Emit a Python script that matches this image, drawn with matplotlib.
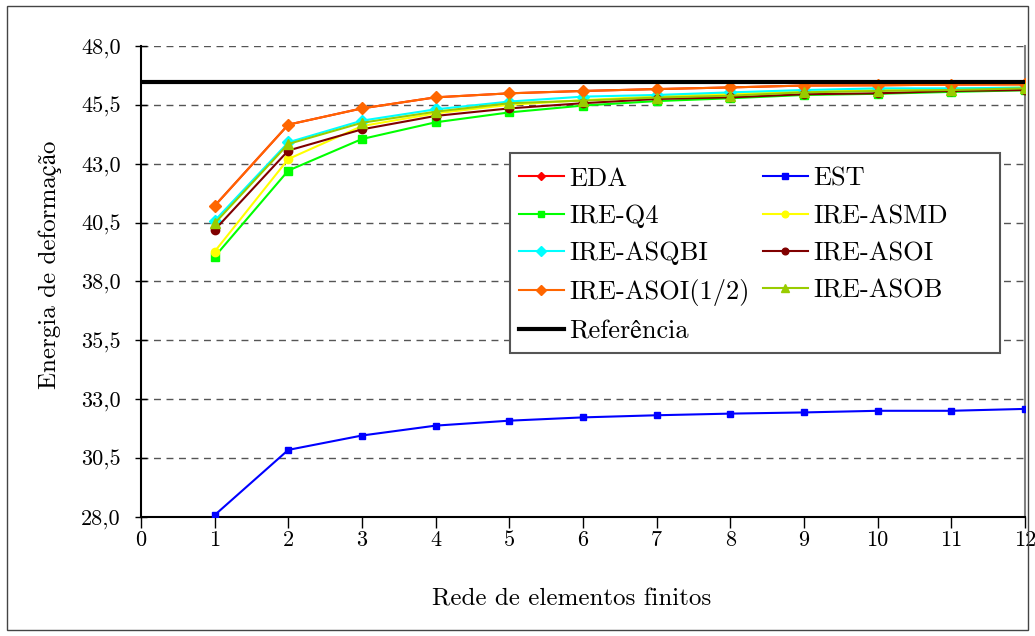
import matplotlib
matplotlib.use("Agg")
import matplotlib.pyplot as plt
from matplotlib.patches import Rectangle
from matplotlib.ticker import FixedLocator, FixedFormatter

plt.rcParams['font.family'] = ['cmr10', 'STIXGeneral']
plt.rcParams['axes.unicode_minus'] = False

# Mesh refinement levels
meshes = [1, 2, 3, 4, 5, 6, 7, 8, 9, 10, 11, 12]

eda = [41.21, 44.66, 45.35, 45.82, 45.99, 46.09, 46.17, 46.24, 46.32, 46.33, 46.36, 46.37]
est = [28.08, 30.85, 31.46, 31.88, 32.09, 32.23, 32.32, 32.39, 32.44, 32.51, 32.51, 32.59]
ire_q4 = [39.05, 42.71, 44.05, 44.76, 45.18, 45.47, 45.66, 45.78, 45.92, 45.97, 46.05, 46.12]
ire_asmd = [39.27, 43.20, 44.60, 45.14, 45.50, 45.70, 45.86, 45.97, 46.06, 46.13, 46.19, 46.24]
ire_asqbi = [40.58, 43.91, 44.83, 45.31, 45.64, 45.85, 45.92, 46.03, 46.13, 46.20, 46.20, 46.23]
ire_asoi = [40.19, 43.56, 44.46, 45.03, 45.35, 45.57, 45.75, 45.82, 45.95, 45.99, 46.09, 46.13]
ire_asoi_half = [41.21, 44.66, 45.35, 45.82, 45.99, 46.09, 46.17, 46.24, 46.32, 46.33, 46.36, 46.37]
ire_asob = [40.47, 43.84, 44.74, 45.21, 45.57, 45.68, 45.81, 45.89, 46.03, 46.09, 46.13, 46.20]
reference_value = 46.46

x_ticks = [0, 1, 2, 3, 4, 5, 6, 7, 8, 9, 10, 11, 12]
y_ticks = [28.0, 30.5, 33.0, 35.5, 38.0, 40.5, 43.0, 45.5, 48.0]
y_tick_labels = ["28,0", "30,5", "33,0", "35,5", "38,0", "40,5", "43,0", "45,5", "48,0"]

series = [
    ("EDA", eda, "#FF0000", "D", 5),
    ("EST", est, "#0000FF", "s", 5),
    ("IRE-Q4", ire_q4, "#00FF00", "s", 6),
    ("IRE-ASMD", ire_asmd, "#FFFF00", "o", 6),
    ("IRE-ASQBI", ire_asqbi, "#00FFFF", "D", 6),
    ("IRE-ASOI", ire_asoi, "#800000", "o", 6),
    ("IRE-ASOI(1/2)", ire_asoi_half, "#FF6600", "D", 6),
    ("IRE-ASOB", ire_asob, "#99CC00", "^", 7),
]

fig = plt.figure(figsize=(10.35, 6.36), dpi=100)
ax = fig.add_axes([0.1362, 0.1871, 0.8541, 0.7406])

# Outer frame around the whole figure
fig.patches.append(Rectangle((0.007, 0.009), 0.986, 0.982, transform=fig.transFigure,
                             fill=False, edgecolor="#444444", linewidth=1.0))

handles = {}
for label, values, color, marker, ms in series:
    line, = ax.plot(meshes, values, color=color, marker=marker, markersize=ms,
                    linewidth=1.5, label=label, zorder=3)
    handles[label] = line

ref_line = ax.axhline(reference_value, color="black", linewidth=3,
                      label="Referência", zorder=4)
handles["Referência"] = ref_line

ax.set_xlim(0, 12)
ax.set_ylim(28, 48)
ax.xaxis.set_major_locator(FixedLocator(x_ticks))
ax.yaxis.set_major_locator(FixedLocator(y_ticks))
ax.yaxis.set_major_formatter(FixedFormatter(y_tick_labels))

ax.grid(axis="y", color="#555555", linestyle=(0, (5, 4)), linewidth=1.0, zorder=1)
ax.set_axisbelow(True)

ax.tick_params(axis="y", direction="inout", length=9, width=1, labelsize=16, pad=10)
ax.tick_params(axis="x", direction="out", length=8, width=1, labelsize=16, pad=2)

ax.spines["left"].set_color("black")
ax.spines["left"].set_linewidth(1.5)
ax.spines["bottom"].set_color("black")
ax.spines["bottom"].set_linewidth(1.5)
ax.spines["right"].set_color("#808080")
ax.spines["right"].set_linewidth(1.5)
ax.spines["top"].set_visible(False)

ax.set_xlabel("Rede de elementos finitos", fontsize=18)
ax.set_ylabel("Energia de deformação", fontsize=18)
ax.xaxis.set_label_coords(0.4876, -0.152)
ax.yaxis.set_label_coords(-0.089, 0.535)

# Legend box with extra room on the right
legend_box = Rectangle((0.4174, 0.3482), 0.5543, 0.4246, transform=ax.transAxes,
                       facecolor="white", edgecolor="#555555", linewidth=1.5,
                       zorder=5)
ax.add_patch(legend_box)

# Row-major legend layout in two columns
order = ["EDA", "IRE-Q4", "IRE-ASQBI", "IRE-ASOI(1/2)", "Referência",
         "EST", "IRE-ASMD", "IRE-ASOI", "IRE-ASOB"]
leg = ax.legend([handles[k] for k in order], order, ncol=2, loc="upper left",
                bbox_to_anchor=(0.4276, 0.7431), borderaxespad=0.0,
                fontsize=19, frameon=False, borderpad=0.0,
                handlelength=1.7, handletextpad=0.2, columnspacing=0.5,
                labelspacing=0.515, markerscale=0.8)
leg.set_zorder(6)

fig.savefig("out.png", dpi=100)
